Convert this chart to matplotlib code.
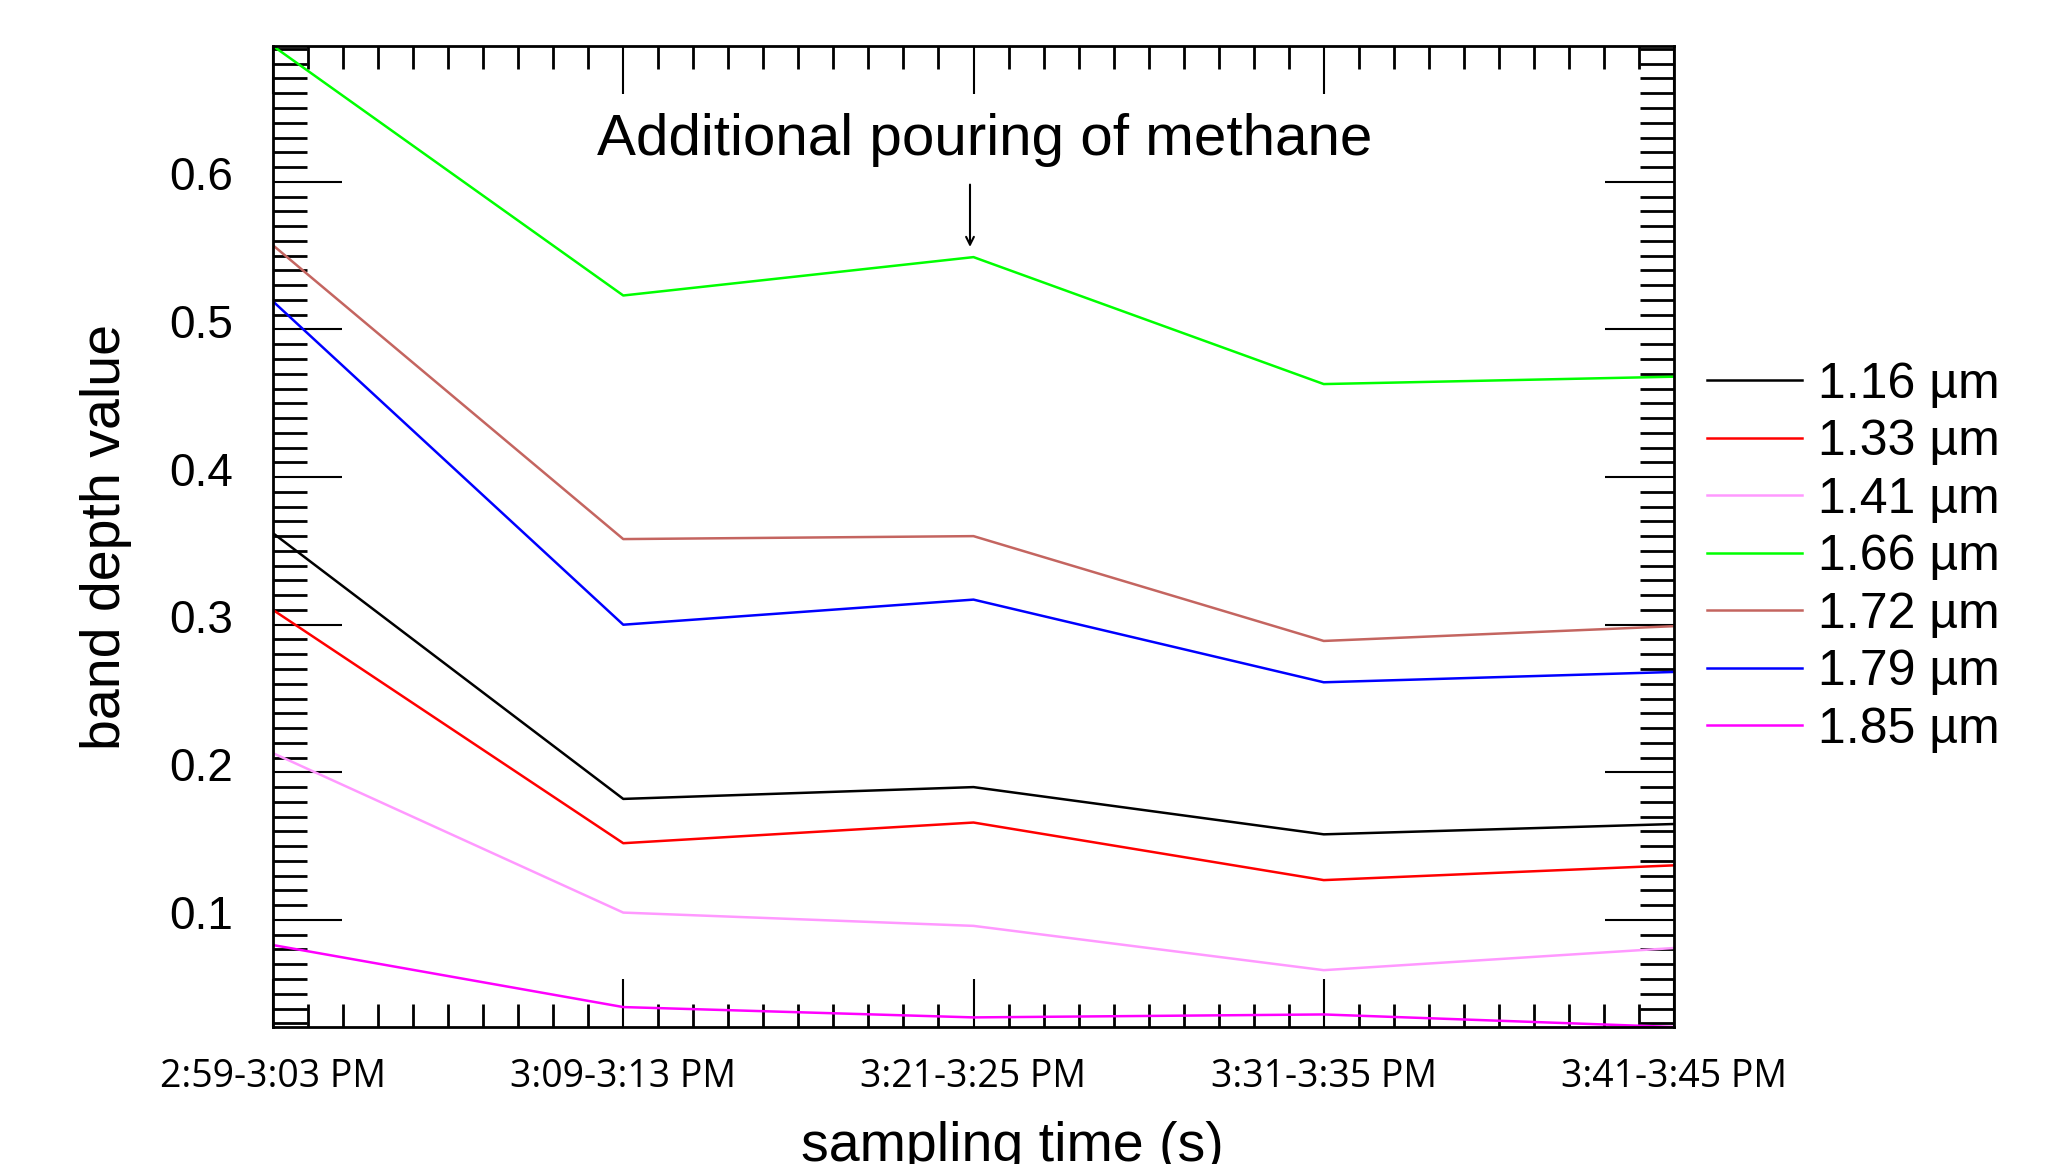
import matplotlib
matplotlib.use('Agg')
import matplotlib.pyplot as plt
import matplotlib.transforms as mtransforms
import numpy as np
from matplotlib.ticker import MultipleLocator

## band depth vs sampling time

times = ['2:59-3:03 PM', '3:09-3:13 PM', '3:21-3:25 PM', '3:31-3:35 PM', '3:41-3:45 PM']
labels = ['1.16 µm', '1.33 µm', '1.41 µm', '1.66 µm', '1.72 µm', '1.79 µm', '1.85 µm']
colors = ['black', '#ff0000', '#ff99ff', '#00ff00', '#c46560', '#0000ff', '#ff00ff']

band_116 = [0.362, 0.182, 0.190, 0.158, 0.165]
band_133 = [0.310, 0.152, 0.166, 0.127, 0.137]
band_141 = [0.213, 0.105, 0.096, 0.066, 0.081]
band_166 = [0.692, 0.523, 0.549, 0.463, 0.468]
band_172 = [0.557, 0.358, 0.360, 0.289, 0.299]
band_179 = [0.519, 0.300, 0.317, 0.261, 0.268]
band_185 = [0.083, 0.041, 0.034, 0.036, 0.0275]

series = [band_116, band_133, band_141, band_166, band_172, band_179, band_185]

plt.rcParams['font.family'] = ['Liberation Sans', 'DejaVu Sans']

fig = plt.figure(figsize=(20.49, 11.64), dpi=100)
ax = fig.add_axes([273 / 2049, 1 - 1027 / 1164, 1401 / 2049, 981 / 1164])

x = np.arange(len(times))
for vals, lab, col in zip(series, labels, colors):
    ax.plot(x, vals, color=col, lw=1.8, label=lab)

allv = np.concatenate([np.array(s) for s in series])
ax.set_xlim(0, len(times) - 1)
ax.set_ylim(allv.min(), allv.max())

# ticks: IDL style, inward on all four sides
ax.xaxis.set_major_locator(MultipleLocator(1))
ax.xaxis.set_minor_locator(MultipleLocator(0.1))
ax.yaxis.set_major_locator(MultipleLocator(0.1))
ax.yaxis.set_minor_locator(MultipleLocator(0.01))
ax.tick_params(axis='both', which='both', direction='in', top=True, right=True, color='black')
ax.tick_params(axis='x', which='major', length=34.5, width=1.5, pad=22)
ax.tick_params(axis='x', which='minor', length=16.5, width=2)
ax.tick_params(axis='y', which='major', length=49.5, width=1.5, pad=29)
ax.tick_params(axis='y', which='minor', length=24.5, width=2)
for sp in ax.spines.values():
    sp.set_linewidth(2)

ax.set_xticks(x)
ax.set_xticklabels(times, fontfamily='Open Sans', fontsize=27)
ax.set_yticks([0.1, 0.2, 0.3, 0.4, 0.5, 0.6])
ax.set_yticklabels(['0.1', '0.2', '0.3', '0.4', '0.5', '0.6'], fontsize=33)
offset = mtransforms.ScaledTranslation(0, 6 / 72, fig.dpi_scale_trans)
for t in ax.get_yticklabels():
    t.set_transform(t.get_transform() + offset)

ax.set_xlabel('sampling time (s)', fontsize=40)
ax.xaxis.set_label_coords(0.5275, -0.0958)
ax.set_ylabel('band depth value', fontsize=40)
ax.yaxis.set_label_coords(-0.1006, 0.5)

# annotation for the extra methane
ax.annotate('', xy=(1.99, 0.554), xytext=(1.99, 0.600),
            arrowprops=dict(arrowstyle='->', lw=1.5, color='black', mutation_scale=14))
ax.text(2.033, 0.628, 'Additional pouring of methane', fontsize=42,
        ha='center', va='center')

ax.legend(loc='center left', bbox_to_anchor=(1707 / 2049, 1 - 557 / 1164),
          bbox_transform=fig.transFigure, frameon=False, fontsize=36,
          handlelength=1.9, handletextpad=0.32, labelspacing=0.23,
          borderpad=0, borderaxespad=0)

fig.savefig('out.png', dpi=100)
